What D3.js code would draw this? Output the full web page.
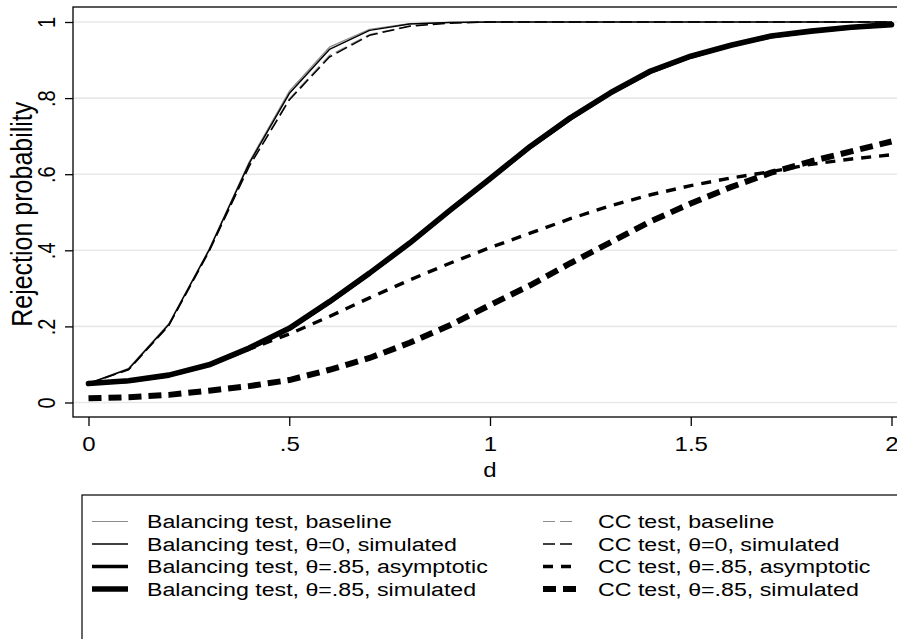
<!DOCTYPE html>
<html>
<head>
<meta charset="utf-8">
<script src="https://cdn.jsdelivr.net/npm/d3@7"></script>
<style>
  body { margin: 0; background: #fff; }
  svg { display: block; font-family: 'Liberation Sans', Arial, sans-serif; }
</style>
</head>
<body>
<div class="graph"></div>
<script>
// values, d = 0, .1, ..., 2
const dValues = [0, 0.1, 0.2, 0.3, 0.4, 0.5, 0.6, 0.7, 0.8, 0.9, 1.0,
  1.1, 1.2, 1.3, 1.4, 1.5, 1.6, 1.7, 1.8, 1.9, 2.0]

const balBaseline = [0.05, 0.09, 0.207, 0.402, 0.632, 0.818, 0.934, 0.981, 0.996, 0.999, 1,
  1, 1, 1, 1, 1, 1, 1, 1, 1, 1]
const balSim0 = [0.05, 0.088, 0.205, 0.400, 0.628, 0.812, 0.928, 0.978, 0.995, 0.999, 1,
  1, 1, 1, 1, 1, 1, 1, 1, 1, 1]
const balAsym85 = [0.05, 0.056, 0.071, 0.098, 0.141, 0.193, 0.262, 0.338, 0.418, 0.503, 0.587,
  0.670, 0.745, 0.812, 0.868, 0.908, 0.938, 0.961, 0.975, 0.985, 0.992]
const balSim85 = [0.05, 0.057, 0.072, 0.099, 0.143, 0.195, 0.265, 0.340, 0.419, 0.505, 0.588,
  0.673, 0.748, 0.814, 0.871, 0.910, 0.939, 0.963, 0.976, 0.986, 0.993]

const ccBaseline = [0.05, 0.087, 0.203, 0.398, 0.622, 0.798, 0.912, 0.967, 0.990, 0.998, 1,
  1, 1, 1, 1, 1, 1, 1, 1, 1, 1]
const ccSim0 = [0.05, 0.086, 0.202, 0.396, 0.620, 0.795, 0.908, 0.965, 0.989, 0.997, 1,
  1, 1, 1, 1, 1, 1, 1, 1, 1, 1]
const ccAsym85 = [0.05, 0.056, 0.071, 0.098, 0.140, 0.180, 0.226, 0.275, 0.322, 0.366, 0.407,
  0.445, 0.483, 0.517, 0.546, 0.570, 0.590, 0.607, 0.626, 0.640, 0.651]
const ccSim85 = [0.011, 0.014, 0.020, 0.031, 0.043, 0.059, 0.086, 0.117, 0.157, 0.203, 0.256,
  0.308, 0.366, 0.421, 0.476, 0.523, 0.566, 0.604, 0.634, 0.660, 0.686]

const xTicks = [0, 0.5, 1, 1.5, 2]
const yTicks = [0, 0.2, 0.4, 0.6, 0.8, 1]

const seriesNames = [
  'Balancing test, baseline',
  'Balancing test, θ=0, simulated',
  'Balancing test, θ=.85, asymptotic',
  'Balancing test, θ=.85, simulated',
  'CC test, baseline',
  'CC test, θ=0, simulated',
  'CC test, θ=.85, asymptotic',
  'CC test, θ=.85, simulated'
]
const seriesValues = [balBaseline, balSim0, balAsym85, balSim85,
  ccBaseline, ccSim0, ccAsym85, ccSim85]

// line styles, same order as the series
const styles = [
  { color: '#8c8c8c', width: 1.2, dash: null },
  { color: '#000', width: 1.5, dash: null },
  { color: '#000', width: 3.4, dash: null },
  { color: '#000', width: 5.6, dash: null },
  { color: '#8c8c8c', width: 1.2, dash: '12,5' },
  { color: '#000', width: 1.5, dash: '12,5' },
  { color: '#000', width: 3.4, dash: '10,8' },
  { color: '#000', width: 6, dash: '13,7' }
]
// draw order: thin first, thick last
const drawOrder = [0, 4, 1, 5, 2, 6, 3, 7]

const width = 897
const height = 639
const frame = { left: 73, top: 7, right: 905, bottom: 417 }
// the picture is stretched sideways, text too
const sx = 1.2

const svg = d3.select('.graph')
  .append('svg')
  .attr('width', width)
  .attr('height', height)

const x = d3.scaleLinear().domain([0, 2]).range([88.5, 891.5])
const y = d3.scaleLinear().domain([0, 1]).range([402.5, 22])

const fmt = (v) => (v === 0 ? '0' : String(v).replace(/^0\./, '.'))

// grid
svg.append('g')
  .selectAll('line')
  .data(yTicks)
  .join('line')
  .attr('x1', frame.left)
  .attr('x2', frame.right)
  .attr('y1', (d) => y(d))
  .attr('y2', (d) => y(d))
  .attr('stroke', '#e8e8e8')
  .attr('stroke-width', 1.6)

// series
const line = d3.line()
  .x((d, i) => x(dValues[i]))
  .y((d) => y(d))

svg.append('g')
  .selectAll('path')
  .data(drawOrder)
  .join('path')
  .attr('d', (k) => line(seriesValues[k]))
  .attr('fill', 'none')
  .attr('stroke', (k) => styles[k].color)
  .attr('stroke-width', (k) => styles[k].width)
  .attr('stroke-dasharray', (k) => styles[k].dash)
  .attr('stroke-linejoin', 'round')
  .attr('stroke-linecap', (k) => (styles[k].dash ? 'butt' : 'round'))

// frame
svg.append('rect')
  .attr('x', frame.left)
  .attr('y', frame.top)
  .attr('width', frame.right - frame.left)
  .attr('height', frame.bottom - frame.top)
  .attr('fill', 'none')
  .attr('stroke', '#000')
  .attr('stroke-width', 1.3)

// axes
const xAxis = svg.append('g')
  .attr('transform', `translate(0,${frame.bottom})`)
  .call(d3.axisBottom(x).tickValues(xTicks).tickFormat(fmt).tickSize(9))
xAxis.select('.domain').remove()
xAxis.selectAll('line').attr('stroke-width', 1.3)
xAxis.selectAll('text')
  .attr('y', null)
  .attr('dy', null)
  .attr('transform', `translate(0,34) scale(${sx},1)`)
  .attr('font-size', 20)
  .attr('font-family', 'Liberation Sans, Arial, sans-serif')
  .attr('fill', '#000')

const yAxis = svg.append('g')
  .attr('transform', `translate(${frame.left},0)`)
  .call(d3.axisLeft(y).tickValues(yTicks).tickFormat(fmt).tickSize(8))
yAxis.select('.domain').remove()
yAxis.selectAll('line').attr('stroke-width', 1.3)
yAxis.selectAll('text')
  .attr('x', null)
  .attr('dy', null)
  .attr('text-anchor', 'middle')
  .attr('transform', `translate(-18,0) scale(${sx},1) rotate(-90)`)
  .attr('font-size', 20)
  .attr('font-family', 'Liberation Sans, Arial, sans-serif')
  .attr('fill', '#000')

// axis titles
svg.append('text')
  .text('d')
  .attr('text-anchor', 'middle')
  .attr('transform', `translate(${x(1)},477) scale(${sx},1)`)
  .attr('font-size', 20)

svg.append('text')
  .text('Rejection probability')
  .attr('text-anchor', 'middle')
  .attr('transform', `translate(32,${(y(0) + y(1)) / 2 + 2}) scale(1.15,1) rotate(-90)`)
  .attr('font-size', 25)

// legend
const legend = svg.append('g')
legend.append('rect')
  .attr('x', 82)
  .attr('y', 495)
  .attr('width', 850)
  .attr('height', 200)
  .attr('fill', '#fff')
  .attr('stroke', '#000')
  .attr('stroke-width', 1.2)

const colX = [{ x0: 92, x1: 128, tx: 147 }, { x0: 543, x1: 577, tx: 598 }]
const rowY = d3.scaleLinear().domain([0, 3]).range([521.5, 589])

const items = legend.selectAll('g.item')
  .data(seriesNames.map((name, k) => ({ name, k, col: Math.floor(k / 4), row: k % 4 })))
  .join('g')
  .attr('class', 'item')

items.append('line')
  .attr('x1', (d) => colX[d.col].x0)
  .attr('x2', (d) => colX[d.col].x1)
  .attr('y1', (d) => rowY(d.row))
  .attr('y2', (d) => rowY(d.row))
  .attr('stroke', (d) => styles[d.k].color)
  .attr('stroke-width', (d) => styles[d.k].width)
  .attr('stroke-dasharray', (d) => styles[d.k].dash)

items.append('text')
  .text((d) => d.name)
  .attr('transform', (d) => `translate(${colX[d.col].tx},${rowY(d.row)}) scale(1.22,1)`)
  .attr('dy', '0.36em')
  .attr('font-size', 19)
  .attr('fill', '#000')
</script>
</body>
</html>
